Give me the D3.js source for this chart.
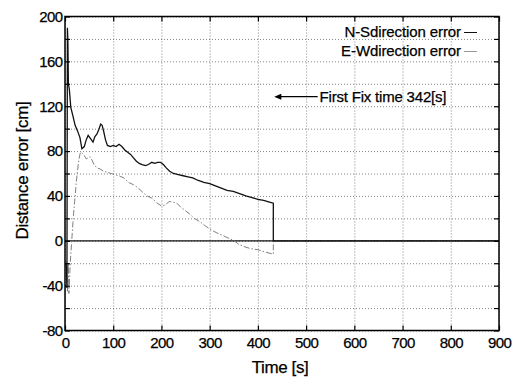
<!DOCTYPE html>
<html>
<head>
<meta charset="utf-8">
<script src="https://cdn.jsdelivr.net/npm/d3@7"></script>
<style>
  body { margin: 0; background: #fff; }
  svg text { font-family: "Liberation Sans", Arial, Helvetica, sans-serif; fill: #000; stroke: #000; stroke-width: 0.25px; }
  .tick text { font-size: 15px; letter-spacing: -0.6px; }
  .grid line { stroke: #666; stroke-width: 0.8; stroke-dasharray: 1,2; }
  .grid path { display: none; }
</style>
</head>
<body>
<div id="chart"></div>
<script>
// N-S direction error (black)
const nsTime  = [3, 4, 5, 6, 7, 9, 12, 16, 21, 26, 31, 35, 40, 44, 48, 53, 58, 62, 66, 70, 74, 77, 80, 84, 88, 94,
                 100, 106, 112, 118, 124, 130, 136, 142, 148, 154, 160, 167, 173, 180, 186, 192, 198, 204, 210, 217,
                 225, 235, 245, 255, 265, 275, 288, 300, 312, 324, 336, 349, 362, 375, 388, 400, 412, 424, 432, 432, 900];
const nsError = [-20, -42, 190, 178, 140, 135, 119, 112, 103, 98, 92, 82, 84, 90, 94, 91, 88, 93, 95, 99, 104, 103, 98, 90, 85, 84,
                 85, 84, 86, 84, 81, 79, 77, 74, 71, 69, 68, 67, 68, 70, 69, 70, 70, 68, 65, 62,
                 60, 59, 58, 57, 56, 54, 52, 51, 49, 47, 45, 44, 42, 40, 38.5, 37, 36, 34.5, 33.5, 0, 0];

// E-W direction error (gray)
const ewTime  = [2, 3, 4, 5, 6, 7, 8, 9, 10, 12, 14, 17, 20, 23, 26, 29, 32, 36, 40, 44, 48, 52, 56, 60, 66, 73, 80, 88, 96,
                 104, 112, 122, 132, 142, 152, 162, 170, 180, 190, 200, 208, 216, 224, 232, 240, 249, 258, 268, 280,
                 292, 304, 315, 326, 338, 349, 360, 370, 385, 400, 415, 432, 432, 900];
const ewError = [-18, -35, -22, -45, -30, -20, -47, -40, -28, -12, 0, 20, 35, 50, 63, 73, 79, 78, 76, 73, 74, 75, 72, 68, 65, 64, 62, 61, 60,
                 59, 58, 56, 52, 50, 47, 43, 40, 38, 34, 31, 32, 35, 34.5, 33.5, 30, 27, 24, 20, 17,
                 13, 9.5, 7, 5, 2.5, 0.5, -3, -5, -7, -8, -10, -12, 0, 0];

const xTicks = [0, 100, 200, 300, 400, 500, 600, 700, 800, 900];
const yTicks = [-80, -60, -40, -20, 0, 20, 40, 60, 80, 100, 120, 140, 160, 180, 200];
const legendLabels = ["N-Sdirection error", "E-Wdirection error"];
const fixTime = 342;

const W = 517, H = 378;
const margin = { top: 16.5, right: 18, bottom: 47.5, left: 65 };
const width = W - margin.left - margin.right;
const height = H - margin.top - margin.bottom;

const svg = d3.select("#chart").append("svg")
    .attr("width", W)
    .attr("height", H);

const g = svg.append("g")
    .attr("transform", `translate(${margin.left},${margin.top})`);

const x = d3.scaleLinear().domain([0, 900]).range([0, width]);
const y = d3.scaleLinear().domain([-80, 200]).range([height, 0]);

// Grid lines
g.append("g")
    .attr("class", "grid")
    .attr("transform", `translate(0,${height})`)
    .call(d3.axisBottom(x).tickValues(xTicks).tickSize(-height).tickFormat(""));

g.append("g")
    .attr("class", "grid")
    .call(d3.axisLeft(y).tickValues(yTicks).tickSize(-width).tickFormat(""));

// Zero reference line
g.append("line")
    .attr("x1", 0).attr("x2", width)
    .attr("y1", y(0)).attr("y2", y(0))
    .attr("stroke", "#111")
    .attr("stroke-width", 1.3);

// Series
const line = d3.line()
    .x(d => x(d[0]))
    .y(d => y(d[1]));

g.append("path")
    .datum(ewTime.map((t, i) => [t, ewError[i]]))
    .attr("fill", "none")
    .attr("stroke", "#808080")
    .attr("stroke-width", 1)
    .attr("stroke-dasharray", "6,2,1.5,2")
    .attr("d", line);

g.append("path")
    .datum(nsTime.map((t, i) => [t, nsError[i]]))
    .attr("fill", "none")
    .attr("stroke", "#111")
    .attr("stroke-width", 1.3)
    .attr("d", line);

// Axes with inward ticks
const yFmt = d => (d % 40 === 0 ? d : "");

g.append("g")
    .attr("transform", `translate(0,${height})`)
    .call(d3.axisBottom(x).tickValues(xTicks).tickSize(-5).tickPadding(6.5))
    .call(a => a.select(".domain").remove());

g.append("g")
    .call(d3.axisLeft(y).tickValues(yTicks).tickSize(-5).tickPadding(2.5).tickFormat(yFmt))
    .call(a => a.select(".domain").remove());

g.append("g")
    .call(d3.axisTop(x).tickValues(xTicks).tickSize(-5).tickFormat(""))
    .call(a => a.select(".domain").remove());

g.append("g")
    .attr("transform", `translate(${width},0)`)
    .call(d3.axisRight(y).tickValues(yTicks).tickSize(-5).tickFormat(""))
    .call(a => a.select(".domain").remove());

g.selectAll(".tick line").attr("stroke", "#000").attr("stroke-width", 1.2);

// Frame
g.append("rect")
    .attr("width", width)
    .attr("height", height)
    .attr("fill", "none")
    .attr("stroke", "#000")
    .attr("stroke-width", 1.5);

// Axis titles
svg.append("text")
    .attr("x", margin.left + width / 2 - 2)
    .attr("y", 373)
    .attr("text-anchor", "middle")
    .style("font-size", "17px")
    .style("letter-spacing", "-0.4px")
    .text("Time [s]");

svg.append("text")
    .attr("transform", `translate(28,${margin.top + height / 2 - 3}) rotate(-90)`)
    .attr("text-anchor", "middle")
    .style("font-size", "17px")
    .style("letter-spacing", "-0.3px")
    .text("Distance error [cm]");

// Legend
const legend = g.append("g").attr("transform", `translate(${width - 38},0)`);
legendLabels.forEach((label, i) => {
    const ly = 20 + i * 19;
    legend.append("text")
        .attr("x", 0)
        .attr("y", ly)
        .attr("text-anchor", "end")
        .style("font-size", "15px")
        .style("letter-spacing", "-0.1px")
        .text(label);
    legend.append("line")
        .attr("x1", 3).attr("x2", 16)
        .attr("y1", ly - 4).attr("y2", ly - 4)
        .attr("stroke", i === 0 ? "#111" : "#999")
        .attr("stroke-width", 1);
});

// Annotation: first fix time
const ay = y(128.5);
g.append("line")
    .attr("x1", x(524)).attr("x2", x(437))
    .attr("y1", ay).attr("y2", ay)
    .attr("stroke", "#000")
    .attr("stroke-width", 1.2);
g.append("path")
    .attr("d", `M${x(434)},${ay} l7,-3 l0,6 z`)
    .attr("fill", "#000");
g.append("text")
    .attr("x", x(528))
    .attr("y", ay + 5)
    .style("font-size", "15px")
    .style("letter-spacing", "-0.2px")
    .text(`First Fix time ${fixTime}[s]`);
</script>
</body>
</html>
